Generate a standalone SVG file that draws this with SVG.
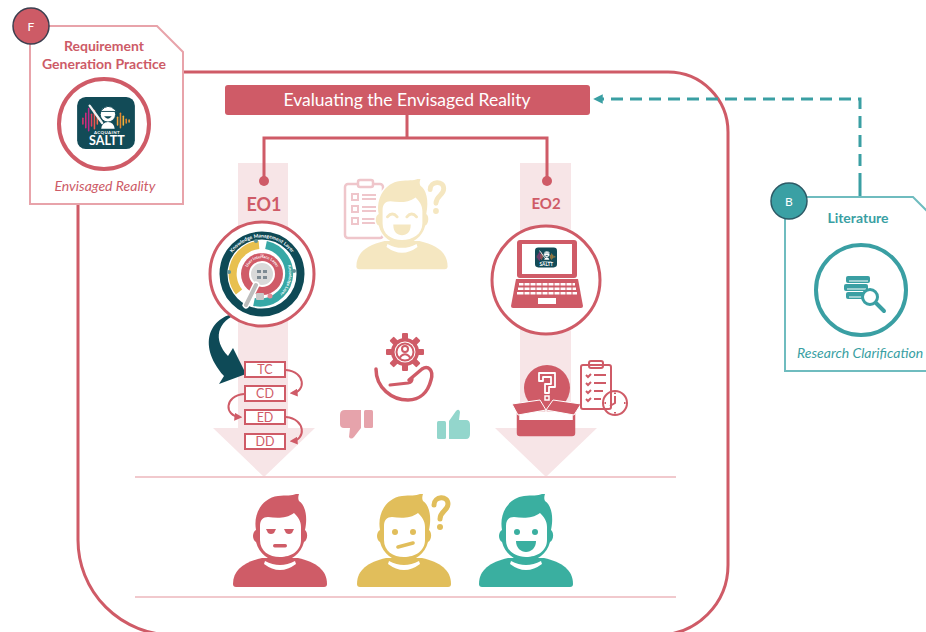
<svg xmlns="http://www.w3.org/2000/svg" xmlns:xlink="http://www.w3.org/1999/xlink" width="926" height="632" viewBox="0 0 926 632">
  <style>
    .red-line { fill: none; stroke: #cf5b67; stroke-width: 3; }
    .band { fill: #f7e5e7; }
    .sep { stroke: #f1c9cd; stroke-width: 2; }
    .lbl { font-family: Lato, "Open Sans", "Liberation Sans", sans-serif; }
    .step rect { fill: #fff; stroke: #cf5b67; stroke-width: 2; }
    .step text { font-family: Lato, "Open Sans", "Liberation Sans", sans-serif; font-size: 12.5px; fill: #cf5b67; text-anchor: middle; }
    .loop { fill: none; stroke: #cf5b67; stroke-width: 2; marker-end: url(#tipRed); }
    .ic { fill: none; stroke: #cf5b67; stroke-width: 2; }
    .white { fill: #fff; }
  </style>
  <defs>
    <marker id="tipRed" viewBox="0 0 10 10" refX="7" refY="5" markerWidth="4" markerHeight="4" orient="auto">
      <path d="M0,0 L10,5 L0,10 Z" fill="#cf5b67"/>
    </marker>
    <marker id="tipTeal" viewBox="0 0 10 10" refX="6" refY="5" markerWidth="3.2" markerHeight="3.2" orient="auto">
      <path d="M0,0 L10,5 L0,10 Z" fill="#3a9fa3"/>
    </marker>
    <!-- app badge -->
    <symbol id="saltt" viewBox="0 0 60 54">
      <rect width="60" height="54" rx="9" fill="#124b57"/>
      <g stroke-linecap="round" stroke-width="1.6">
        <line x1="6" y1="22" x2="6" y2="28" stroke="#e0336e"/>
        <line x1="9" y1="17" x2="9" y2="32" stroke="#d12a7d"/>
        <line x1="12" y1="12" x2="12" y2="35" stroke="#c2268a"/>
        <line x1="15" y1="18" x2="15" y2="30" stroke="#e8405f"/>
        <line x1="18" y1="14" x2="18" y2="33" stroke="#f0564e"/>
        <line x1="21" y1="20" x2="21" y2="28" stroke="#f06a4f"/>
        <line x1="42" y1="21" x2="42" y2="29" stroke="#f2a23a"/>
        <line x1="45" y1="17" x2="45" y2="32" stroke="#e7862e"/>
        <line x1="48" y1="20" x2="48" y2="29" stroke="#f2b43a"/>
        <line x1="51" y1="23" x2="51" y2="27" stroke="#e7862e"/>
        <line x1="54" y1="24" x2="54" y2="26" stroke="#f2a23a"/>
      </g>
      <line x1="13" y1="9" x2="26" y2="27" stroke="#f3f3f3" stroke-width="2.4" stroke-linecap="round"/>
      <circle cx="32" cy="18" r="8" fill="#fff" stroke="#124b57" stroke-width="1"/>
      <path d="M25,14 Q32,6 39,13 L41,15 L25,15 Z" fill="#fff" stroke="#124b57" stroke-width="1"/>
      <path d="M28,20 Q32,25 36,20 Z" fill="#124b57"/>
      <path d="M25,33 Q26,26 32,26 Q38,26 39,33 Z" fill="#fff"/>
      <text x="31" y="38" font-family="Lato, 'Liberation Sans', sans-serif" font-weight="bold" font-size="4.6" fill="#fff" text-anchor="middle" letter-spacing="0.4">ACQUAINT</text>
      <text x="31" y="50" font-family="Lato, 'Liberation Sans', sans-serif" font-weight="bold" font-size="13" fill="#fff" text-anchor="middle">SALTT</text>
    </symbol>
    <!-- person silhouette, origin at top centre -->
    <g id="person">
      <path d="M-47,90 C-47,76 -36,68 -18,64 L18,64 C36,68 47,76 47,90 Q47,93 44,93 L-44,93 Q-47,93 -47,90 Z"/>
      <rect x="-10" y="55" width="20" height="12"/>
      <path d="M-24,36 C-27,20 -18,4 -2,2 C6,1 12,2 16,0 L19,0 C18,3 18,5 19,7 C25,11 28,22 25,36 C28,38 28,46 24,48 C21,60 11,67 0,67 C-11,67 -21,60 -24,48 C-28,46 -28,38 -24,36 Z"/>
      <path class="white" d="M-20,32 C-20,26 -17,23 -12,23 C-4,24 6,25 14,19 C18,23 21,27 21,33 L21,46 C21,57 11,63 0,63 C-11,63 -20,57 -20,46 Z"/>
      <path class="white" d="M-15,67 Q0,75 15,67 L16,70 Q0,82 -16,70 Z"/>
    </g>
    <path id="qmark" d="M30,11 C30,2 44,1 44,10 C44,17 36,17 36,25" fill="none" stroke-width="5" stroke-linecap="round"/>
    <path id="kmArc" d="M227.7,261.5 A36.5,36.5 0 0 1 296.3,261.5"/>
    <path id="uiArc" d="M247,268.5 A16,16 0 0 1 277,268.5"/>
    <path id="klArc" d="M285.4,260.5 A27,27 0 0 1 275.5,297.4"/>
  </defs>

  <!-- outer practice frame -->
  <path class="red-line" d="M78,200 V540 A95,95 0 0 0 173,635 H658 A70,70 0 0 0 728,565 V132 A60,60 0 0 0 668,72 H180"/>

  <!-- evaluation columns -->
  <g id="columns">
    <rect class="band" x="238" y="163" width="50" height="266"/>
    <path class="band" d="M213,428 H315 L264,477 Z"/>
    <rect class="band" x="520" y="163" width="51" height="266"/>
    <path class="band" d="M495,428 H597 L546,477 Z"/>
    <line class="sep" x1="135" y1="477" x2="676" y2="477"/>
    <line class="sep" x1="135" y1="597" x2="676" y2="597"/>
  </g>

  <!-- connectors -->
  <g id="connectors">
    <path class="red-line" d="M407,115 V138 M264,180 V138 H547 V180"/>
    <circle cx="264" cy="181" r="5" fill="#cf5b67"/>
    <circle cx="547" cy="181" r="5" fill="#cf5b67"/>
    <path d="M860,185 V99 H597" fill="none" stroke="#3a9fa3" stroke-width="3" stroke-dasharray="12 7" marker-end="url(#tipTeal)"/>
    <line x1="860" y1="185" x2="860" y2="197" stroke="#3a9fa3" stroke-width="3"/>
    <path class="loop" d="M286,370 C306,372 306,392 292,393"/>
    <path class="loop" d="M244,394 C224,396 224,416 240,417"/>
    <path class="loop" d="M286,417 C306,419 306,440 292,441"/>
    <path d="M240,313 C212,314 195,343 224,376 L219,384 L246,374 L233,348 L228,356 C213,340 216,321 240,313 Z" fill="#0e4a57"/>
  </g>

  <!-- title -->
  <g id="title">
    <rect x="225" y="85" width="365" height="30" rx="3" fill="#cf5b67"/>
    <text class="lbl" x="407" y="106" font-size="17.5" fill="#fff" text-anchor="middle">Evaluating the Envisaged Reality</text>
  </g>

  <!-- F: requirement generation practice -->
  <g id="node-f">
    <path d="M30,26 H157 L183,52 V204 H30 Z" fill="#fff" stroke="#e8a3aa" stroke-width="2"/>
    <circle cx="31" cy="26" r="18" fill="#cd5b66" stroke="#3d3f4f" stroke-width="1.5"/>
    <text class="lbl" x="31" y="31" font-size="12" fill="#fff" text-anchor="middle">F</text>
    <text class="lbl" x="104" y="51" font-size="14" font-weight="bold" fill="#cd5b67" text-anchor="middle">Requirement</text>
    <text class="lbl" x="104" y="69" font-size="14" font-weight="bold" fill="#cd5b67" text-anchor="middle">Generation Practice</text>
    <circle cx="104" cy="124" r="45" fill="#fff" stroke="#cf5b67" stroke-width="4"/>
    <use href="#saltt" x="77" y="97" width="58" height="52"/>
    <text class="lbl" x="105" y="191" font-size="14" font-style="italic" fill="#cd5b67" text-anchor="middle">Envisaged Reality</text>
  </g>

  <!-- B: literature -->
  <g id="node-b">
    <path d="M785,197 H913 L940,224 V371 H785 Z" fill="#fff" stroke="#6fbcbf" stroke-width="2"/>
    <circle cx="789" cy="201" r="18" fill="#3aa0a4" stroke="#2d5a66" stroke-width="1.5"/>
    <text class="lbl" x="789" y="206" font-size="12" fill="#fff" text-anchor="middle">B</text>
    <text class="lbl" x="858" y="223" font-size="14" font-weight="bold" fill="#3a9fa3" text-anchor="middle">Literature</text>
    <circle cx="861" cy="290" r="45" fill="#fff" stroke="#3a9fa3" stroke-width="4"/>
    <g fill="#3a9fa3">
      <rect x="846" y="276" width="24" height="7" rx="2"/>
      <rect x="844" y="284" width="24" height="7" rx="2"/>
      <rect x="846" y="292" width="22" height="7" rx="2"/>
    </g>
    <g stroke="#fff" stroke-width="1">
      <line x1="849" y1="281" x2="868" y2="281"/>
      <line x1="847" y1="289" x2="866" y2="289"/>
      <line x1="849" y1="297" x2="864" y2="297"/>
    </g>
    <circle cx="870" cy="297" r="7.5" fill="#fff" stroke="#3a9fa3" stroke-width="3"/>
    <line x1="876" y1="303" x2="884" y2="311" stroke="#3a9fa3" stroke-width="4" stroke-linecap="round"/>
    <text class="lbl" x="797" y="358" font-size="14" font-style="italic" fill="#3a9fa3">Research Clarification</text>
  </g>

  <!-- EO1: layered architecture -->
  <g id="node-eo1">
    <text class="lbl" x="264" y="211" font-size="18" font-weight="bold" fill="#cf5b67" text-anchor="middle">EO1</text>
    <circle cx="262" cy="274" r="52" fill="#fff" stroke="#cf5b67" stroke-width="3"/>
    <circle cx="262" cy="274" r="38.5" fill="none" stroke="#0e4a56" stroke-width="8"/>
    <path d="M259,245 A29,29 0 0 0 239,292" fill="none" stroke="#e8c04f" stroke-width="8"/>
    <path d="M266,245 A29,29 0 0 1 254,302" fill="none" stroke="#37a8a6" stroke-width="8"/>
    <circle cx="262" cy="274" r="21" fill="#d05b68"/>
    <circle cx="262" cy="274" r="12" fill="#d9d9d9" stroke="#fff" stroke-width="2"/>
    <g fill="#7d8a93">
      <rect x="257" y="270" width="4" height="3"/>
      <rect x="263" y="270" width="4" height="3"/>
      <rect x="257" y="276" width="4" height="3"/>
      <rect x="263" y="276" width="4" height="3"/>
    </g>
    <line x1="256" y1="285" x2="246" y2="305" stroke="#fff" stroke-width="7" stroke-linecap="round"/>
    <line x1="256" y1="285" x2="246" y2="305" stroke="#bdbdbd" stroke-width="4" stroke-linecap="round"/>
    <rect x="256" y="293" width="8" height="7" rx="1" fill="#c9c9c9"/>
    <circle cx="270" cy="296" r="2.5" fill="#e48a96"/>
    <circle cx="262" cy="255" r="2" fill="#e48a96"/>
    <circle cx="229" cy="272" r="2" fill="#5f9399"/>
    <circle cx="294" cy="271" r="2" fill="#5f9399"/>
    <circle cx="256" cy="241" r="2" fill="#5f9399"/>
    <text class="lbl" font-size="5" font-weight="bold" fill="#fff"><textPath href="#kmArc" startOffset="50%" text-anchor="middle">Knowledge Management Layer</textPath></text>
    <text class="lbl" font-size="4" font-weight="bold" fill="#fff"><textPath href="#uiArc" startOffset="50%" text-anchor="middle">User Interface Layer</textPath></text>
    <text class="lbl" font-size="4" font-weight="bold" fill="#fff"><textPath href="#klArc" startOffset="50%" text-anchor="middle">Knowledge Layer</textPath></text>
  </g>

  <!-- EO1 process steps -->
  <g id="steps" class="step">
    <rect x="245" y="362" width="40" height="15"/><text x="265" y="374">TC</text>
    <rect x="245" y="386" width="40" height="15"/><text x="265" y="398">CD</text>
    <rect x="245" y="410" width="40" height="14"/><text x="265" y="421.5">ED</text>
    <rect x="245" y="434" width="40" height="15"/><text x="265" y="446">DD</text>
  </g>

  <!-- EO2: application on laptop -->
  <g id="node-eo2">
    <text class="lbl" x="546" y="209" font-size="15" font-weight="bold" fill="#cf5b67" text-anchor="middle">EO2</text>
    <circle cx="546" cy="280" r="54" fill="#fff" stroke="#cf5b67" stroke-width="3"/>
    <rect x="517" y="240" width="60" height="38" rx="3" fill="#cf5b67"/>
    <rect x="522" y="244" width="50" height="30" fill="#fff"/>
    <use href="#saltt" x="535" y="245" width="22" height="25"/>
    <path d="M516,279 H578 L583,306 Q583,308 581,308 H513 Q511,308 511,306 Z" fill="#cf5b67"/>
    <g fill="#fff">
      <rect x="519" y="283" width="56" height="2.5"/>
      <rect x="518" y="287.5" width="58" height="2.5"/>
      <rect x="517" y="292" width="60" height="2.5"/>
      <rect x="538" y="298" width="18" height="6"/>
    </g>
    <g stroke="#cf5b67" stroke-width="1">
      <path d="M524,282 V296 M530,282 V296 M536,282 V296 M542,282 V296 M548,282 V296 M554,282 V296 M560,282 V296 M566,282 V296 M572,282 V296"/>
    </g>
  </g>

  <!-- stakeholder in question -->
  <g id="node-inquirer">
    <rect x="345" y="184" width="38" height="54" rx="3" fill="#fff" stroke="#efc6cb" stroke-width="2.5"/>
    <rect x="358" y="180" width="15" height="7" rx="2" fill="#fff" stroke="#efc6cb" stroke-width="2.5"/>
    <g fill="none" stroke="#efc6cb" stroke-width="2">
      <rect x="352" y="194" width="6" height="6"/>
      <rect x="352" y="206" width="6" height="6"/>
      <rect x="352" y="218" width="6" height="6"/>
      <path d="M362,195 H376 M362,199 H376 M362,207 H376 M362,211 H376 M362,219 H376 M362,223 H376"/>
    </g>
    <g transform="translate(402,179) scale(0.97)" fill="#f5e7c1" stroke="#fff" stroke-width="3">
      <use href="#person"/>
    </g>
    <g transform="translate(402,179) scale(0.97)" fill="#f5e7c1">
      <use href="#person"/>
      <path d="M-15,39 Q-10,33 -5,39 M5,39 Q10,33 15,39" fill="none" stroke="#f5e7c1" stroke-width="3" stroke-linecap="round"/>
      <path d="M-9,47 H9 C9,55 5,58 0,58 C-5,58 -9,55 -9,47 Z"/>
      <use href="#qmark" stroke="#f5e7c1" x="-1"/>
      <circle cx="35" cy="33" r="3"/>
    </g>
  </g>

  <!-- user-centred evaluation -->
  <g id="node-user-centred">
    <g fill="#cf5b67">
      <circle cx="405" cy="352" r="14"/>
      <g transform="translate(405,352)">
        <rect x="-3" y="-19" width="6" height="7" rx="1"/>
        <rect x="-3" y="-19" width="6" height="7" rx="1" transform="rotate(45)"/>
        <rect x="-3" y="-19" width="6" height="7" rx="1" transform="rotate(90)"/>
        <rect x="-3" y="-19" width="6" height="7" rx="1" transform="rotate(135)"/>
        <rect x="-3" y="-19" width="6" height="7" rx="1" transform="rotate(180)"/>
        <rect x="-3" y="-19" width="6" height="7" rx="1" transform="rotate(225)"/>
        <rect x="-3" y="-19" width="6" height="7" rx="1" transform="rotate(270)"/>
        <rect x="-3" y="-19" width="6" height="7" rx="1" transform="rotate(315)"/>
      </g>
    </g>
    <circle cx="405" cy="352" r="10.5" fill="#fff"/>
    <circle cx="405" cy="352" r="8.5" class="ic"/>
    <circle cx="405" cy="349" r="3" class="ic" stroke-width="1.6"/>
    <path d="M399.5,358 Q405,350.5 410.5,358" class="ic" stroke-width="1.6"/>
    <path d="M376,369 C376,388 392,400 408,400 C420,400 428,392 431,380 C434,370 428,365 422,369 L409,380" fill="none" stroke="#cf5b67" stroke-width="3.5" stroke-linecap="round" stroke-linejoin="round"/>
    <path d="M390,385 L408,383 Q413,382 412,378" fill="none" stroke="#cf5b67" stroke-width="3" stroke-linecap="round"/>
  </g>

  <!-- feedback -->
  <g id="node-feedback">
    <rect x="364" y="410" width="9" height="18" rx="1.5" fill="#e6a3ab"/>
    <path d="M340,415 Q340,410 345,410 H361 V428 L354,437 Q351,440 349,437 L350,428 H344 Q340,428 340,424 Z" fill="#e6a3ab"/>
    <rect x="437" y="421" width="9" height="18" rx="1.5" fill="#93d6cc"/>
    <path d="M449,439 H466 Q470,439 470,434 V425 Q470,420 466,420 H459 L460,412 Q459,408 456,411 L449,421 Z" fill="#93d6cc"/>
  </g>

  <!-- open questions and scheduled review -->
  <g id="node-open-issues">
    <circle cx="547" cy="388" r="23" fill="#cf5b67"/>
    <path d="M539,381 V373 H555 V387 H549 V393 H545 V384 H551 V377 H543 V381 Z" fill="none" stroke="#fff" stroke-width="1.8" stroke-linejoin="round"/>
    <rect x="545" y="396" width="4" height="4" fill="none" stroke="#fff" stroke-width="1.5"/>
    <path d="M518,410 H574 V433 Q574,435 572,435 H520 Q518,435 518,433 Z" fill="#fff" stroke="#cf5b67" stroke-width="2.5"/>
    <path d="M518,420 H574 V433 Q574,435 572,435 H520 Q518,435 518,433 Z" fill="#cf5b67"/>
    <path d="M512,404 L540,400 L546,410 L518,415 Z" fill="#cf5b67" stroke="#fff" stroke-width="1"/>
    <path d="M581,404 L553,400 L546,410 L574,415 Z" fill="#cf5b67" stroke="#fff" stroke-width="1"/>
    <line x1="546" y1="410" x2="546" y2="420" stroke="#fff" stroke-width="1.2"/>
    <rect x="581" y="365" width="30" height="44" rx="2" fill="#fff" class="ic"/>
    <rect x="589" y="361" width="14" height="7" rx="2" fill="#fff" class="ic"/>
    <path d="M586,375 l2,2 l3,-3 M586,383 l2,2 l3,-3 M586,391 l2,2 l3,-3 M586,399 l2,2 l3,-3 M594,375 H606 M594,383 H606 M594,391 H603 M594,399 H601" class="ic" stroke-width="1.5"/>
    <circle cx="615" cy="403" r="12" fill="#fff" class="ic"/>
    <path d="M615,396 V403 L610,406 M615,392.5 V394 M625.5,403 H624 M615,413.5 V412 M604.5,403 H606" class="ic" stroke-width="1.5"/>
  </g>

  <!-- reactions -->
  <g id="node-rejected" transform="translate(280,494)" fill="#cf5c67">
    <use href="#person"/>
    <path d="M-14,35 L-4,35 L-6,39 Q-9,41 -12,39 Z M4,35 L14,35 L12,39 Q9,41 6,39 Z"/>
    <rect x="-7" y="50" width="14" height="3.5" rx="1.7"/>
  </g>
  <g id="node-uncertain" transform="translate(404,494)" fill="#e1be5b">
    <use href="#person"/>
    <circle cx="-9" cy="38" r="3"/>
    <circle cx="9" cy="38" r="3"/>
    <line x1="-6" y1="53" x2="9" y2="49" stroke="#e1be5b" stroke-width="3.5" stroke-linecap="round"/>
    <use href="#qmark" stroke="#e1be5b"/>
    <circle cx="36" cy="33" r="3"/>
  </g>
  <g id="node-accepted" transform="translate(526,494)" fill="#3aafa0">
    <use href="#person"/>
    <circle cx="-9" cy="38" r="3"/>
    <circle cx="9" cy="38" r="3"/>
    <path d="M-10,47 H10 C10,54 5,58 0,58 C-5,58 -10,54 -10,47 Z"/>
  </g>
</svg>
